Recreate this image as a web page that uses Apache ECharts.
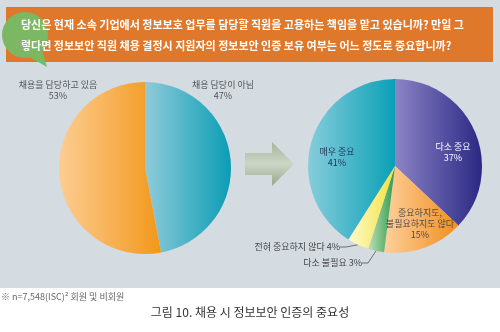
<!DOCTYPE html>
<html>
<head>
<meta charset="utf-8">
<script src="https://cdn.jsdelivr.net/npm/echarts@6/dist/echarts.min.js"></script>
<style>
html,body{margin:0;padding:0;background:#fff;}
#chart{width:500px;height:332px;}
</style>
</head>
<body>
<div id="chart"></div>
<script>
// ---- data ----
var questionLines = [
  "당신은 현재 소속 기업에서 정보보호 업무를 담당할 직원을 고용하는 책임을 맡고 있습니까? 만일 그",
  "렇다면 정보보안 직원 채용 결정시 지원자의 정보보안 인증 보유 여부는 어느 정도로 중요합니까?"
];
var roleCategories = ["채용 담당이 아님", "채용을 담당하고 있음"];
var roleValues = [47, 53];
var importanceCategories = ["다소 중요", "중요하지도, 불필요하지도 않다", "다소 불필요", "전혀 중요하지 않다", "매우 중요"];
var importanceValues = [37, 15, 3, 4, 41];
var footnote = "※ n=7,548(ISC)² 회원 및 비회원";
var caption = "그림 10. 채용 시 정보보안 인증의 중요성";

var FONT = "'Noto Sans CJK KR', 'Noto Sans', sans-serif";

function grad(c0, c1) {
  return new echarts.graphic.LinearGradient(0, 0, 1, 0, [
    {offset: 0, color: c0}, {offset: 1, color: c1}
  ]);
}

var roleColors = [grad('#8fcbd9', '#0a9db5'), grad('#fdcd93', '#f29719')];
var impColors = [
  grad('#8c84c6', '#2a2884'),
  grad('#fdd09c', '#f28d1c'),
  grad('#bfe0b8', '#2e9a48'),
  grad('#fffbd0', '#f3e13a'),
  grad('#86cddc', '#0aa0b6')
];

// label placement (not data)
var roleLabelPos = [{x: 223, y: 90}, {x: 58, y: 90}];
var impLabelPos = [
  {x: 453, y: 152, align: 'center'},
  {x: 420, y: 224, align: 'center'},
  {x: 362, y: 263, align: 'right'},
  {x: 340, y: 247, align: 'right'},
  {x: 337, y: 157, align: 'center'}
];
var impLabelColors = ['#ffffff', '#4a4a4a', '#444444', '#444444', '#1f3350'];

var chart = echarts.init(document.getElementById('chart'), null, {renderer: 'canvas'});

var option = {
  animation: false,
  backgroundColor: '#ffffff',
  textStyle: {fontFamily: FONT},
  graphic: [
    {type: 'rect', z: -10, shape: {x: 0, y: 0, width: 500, height: 288}, style: {fill: '#d4dbe1'}, silent: true},
    {type: 'rect', z: 1, shape: {x: 6, y: 7, width: 487, height: 55}, style: {fill: '#e0782b'}, silent: true},
    {type: 'circle', z: 2, shape: {cx: 25, cy: 35, r: 23}, style: {fill: '#7cb863'}, silent: true},
    {type: 'polygon', z: 2, shape: {points: [[26, 55], [47, 67], [42, 50]]}, style: {fill: '#7cb863'}, silent: true},
    {type: 'text', z: 5, left: 21, top: 19, style: {text: questionLines[0], fill: '#ffffff', font: 'bold 11px ' + FONT}},
    {type: 'text', z: 5, left: 21, top: 40, style: {text: questionLines[1], fill: '#ffffff', font: 'bold 11px ' + FONT}},
    {type: 'polygon', z: 2, shape: {points: [[245, 153], [272, 153], [272, 142], [294, 164], [272, 186], [272, 175], [245, 175]]},
      style: {fill: new echarts.graphic.LinearGradient(0, 0, 0, 1, [
        {offset: 0, color: '#a6b59c'}, {offset: 0.5, color: '#ccd6c6'}, {offset: 1, color: '#97a78e'}
      ])}, silent: true},
    {type: 'text', z: 5, left: 1, top: 292, style: {text: footnote, fill: '#666666', font: '9px ' + FONT}},
    {type: 'text', z: 5, left: 'center', top: 306, style: {text: caption, fill: '#333333', font: '12px ' + FONT}}
  ],
  series: [
    {
      type: 'pie',
      center: [145, 168],
      radius: [0, 86],
      startAngle: 90,
      clockwise: true,
      silent: true,
      data: roleCategories.map(function (n, i) {
        return {name: n, value: roleValues[i], itemStyle: {color: roleColors[i]}};
      }),
      label: {
        show: true, position: 'inside', formatter: '{b}\n{c}%', overflow: 'none',
        color: '#555555', fontSize: 9, lineHeight: 11, align: 'center', fontFamily: FONT
      },
      labelLine: {show: false},
      labelLayout: function (p) {
        var q = roleLabelPos[p.dataIndex];
        return {x: q.x, y: q.y, align: 'center', verticalAlign: 'middle'};
      }
    },
    {
      type: 'pie',
      center: [395, 166],
      radius: [0, 87],
      startAngle: 90,
      clockwise: true,
      silent: true,
      data: importanceCategories.map(function (n, i) {
        var small = importanceValues[i] < 5;
        return {
          name: n, value: importanceValues[i],
          itemStyle: {color: impColors[i]},
          label: {color: impLabelColors[i], position: small ? 'outside' : 'inside'},
          labelLine: {show: small, length: 6, length2: 6, lineStyle: {color: '#555555', width: 0.8}}
        };
      }),
      label: {
        show: true, fontSize: 9, lineHeight: 11, fontFamily: FONT, overflow: 'none', align: 'center',
        formatter: function (p) {
          var small = p.value < 5;
          var name = p.name.replace(', ', ',\n');
          return small ? (name + ' ' + p.value + '%') : (name + '\n' + p.value + '%');
        }
      },
      labelLayout: function (p) {
        var q = impLabelPos[p.dataIndex];
        return {x: q.x, y: q.y, align: q.align, verticalAlign: 'middle'};
      }
    }
  ]
};
chart.setOption(option);
</script>
</body>
</html>
